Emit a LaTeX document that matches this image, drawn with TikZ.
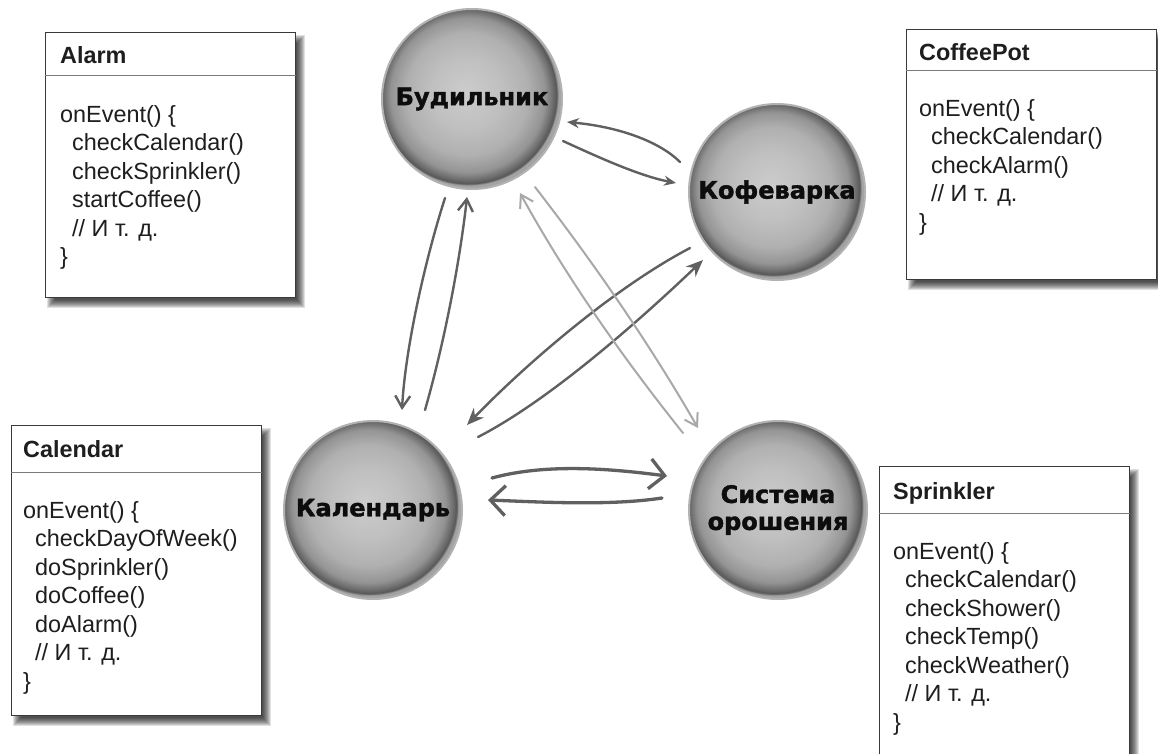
\documentclass[tikz,border=0pt]{standalone}
\usepackage{fontspec}
\setmainfont{Liberation Sans}
\newfontfamily\bubfont{DejaVu Sans}[BoldFeatures={FakeBold=1.6}]
\usetikzlibrary{arrows.meta,calc}
\definecolor{arrdark}{HTML}{606060}
\definecolor{arrlight}{HTML}{A8A8A8}
\definecolor{boxline}{HTML}{3A3A3A}
\definecolor{divline}{HTML}{7A7A7A}
\definecolor{txt}{HTML}{1E1E1E}
\pgfdeclareradialshading{bubble}{\pgfpoint{-2bp}{2bp}}{color(0bp)=(black!20); color(10bp)=(black!25); color(17bp)=(black!31); color(21.5bp)=(black!42); color(23.6bp)=(black!58); color(24.5bp)=(black!66); color(25bp)=(black!36); color(50bp)=(black!36)}
\tikzset{
  bubble/.style={circle, shading=bubble, draw=black!30, line width=2pt,
    minimum size=#1, inner sep=0pt, align=center, text=black!95,
    font=\bubfont\bfseries\fontsize{24}{27}\selectfont},
  classbox/.style={rectangle, draw=boxline, line width=1.1pt, fill=white,
    anchor=north west, minimum width=250pt, inner sep=0pt},
  boxtitle/.style={anchor=base west, inner sep=0pt, text=txt,
    font=\bfseries\fontsize{23.4}{27}\selectfont},
  codeline/.style={anchor=base west, inner sep=0pt, text=txt,
    font=\fontsize{23.4}{27}\selectfont},
  divider/.style={draw=divline, line width=1pt},
  darrow/.style={draw=arrdark, line width=2.4pt, line cap=round},
  larrow/.style={draw=arrlight, line width=2pt, line cap=round},
  warrow/.style={draw=arrdark, line width=3.3pt, line cap=round},
  headstealth/.style={-{Stealth[length=17pt,width=14pt]}},
  headsmall/.style={-{Stealth[length=12pt,width=10pt]}},
  headbarb/.style={-{Straight Barb[length=12pt,width=15pt]}},
  headwide/.style={-{Straight Barb[length=15pt,width=30pt]}}
}
\newcommand\softshadow[4]{%
  \foreach \k in {0,...,8}{%
    \fill[black,opacity=0.12] (#1+10-\k,#2+11-\k) rectangle (#1+#3+2+\k,#2+#4+3+\k);
  }}
\newcommand\codelines[3]{%
  \foreach \t [count=\i] in {#3}{%
    \node[codeline] (#1\i) at ($(#2)+(0,{(\i-1)*28.5})$) {\t};
  }}
\begin{document}
\begin{tikzpicture}[x=1pt,y=-1pt]
\useasboundingbox (0,0) rectangle (1158,753);
\clip (0,0) rectangle (1158,753);

% ---------- class boxes ----------
% Alarm
\softshadow{45}{32}{250}{265}
\node[classbox, minimum height=265pt] (alarmbox) at (45,32) {};
\node[boxtitle] (alarmtitle) at ($(alarmbox.north west)+(15,31)$) {Alarm};
\draw[divider] ($(alarmbox.north west)+(0,43)$) -- ($(alarmbox.north east)+(0,43)$);
\coordinate (alarmtext) at ($(alarmbox.north west)+(15,90)$);
\codelines{alarmL}{alarmtext}{onEvent() \{, \hspace*{12pt}checkCalendar(), \hspace*{12pt}checkSprinkler(), \hspace*{12pt}startCoffee(), \hspace*{12pt}// И т. д., \}}

% CoffeePot
\softshadow{906}{29}{250}{250}
\node[classbox, minimum height=250pt] (coffeebox) at (906,29) {};
\node[boxtitle] (coffeetitle) at ($(coffeebox.north west)+(13,31)$) {CoffeePot};
\draw[divider] ($(coffeebox.north west)+(0,41)$) -- ($(coffeebox.north east)+(0,41)$);
\coordinate (coffeetext) at ($(coffeebox.north west)+(13,87)$);
\codelines{coffeeL}{coffeetext}{onEvent() \{, \hspace*{12pt}checkCalendar(), \hspace*{12pt}checkAlarm(), \hspace*{12pt}// И т. д., \}}

% Calendar
\softshadow{11}{425}{250}{290}
\node[classbox, minimum height=290pt] (calbox) at (11,425) {};
\node[boxtitle] (caltitle) at ($(calbox.north west)+(12,32)$) {Calendar};
\draw[divider] ($(calbox.north west)+(0,47)$) -- ($(calbox.north east)+(0,47)$);
\coordinate (caltext) at ($(calbox.north west)+(12,93)$);
\codelines{calL}{caltext}{onEvent() \{, \hspace*{12pt}checkDayOfWeek(), \hspace*{12pt}doSprinkler(), \hspace*{12pt}doCoffee(), \hspace*{12pt}doAlarm(), \hspace*{12pt}// И т. д., \}}

% Sprinkler
\softshadow{879}{466}{250}{320}
\node[classbox, minimum height=320pt] (sprbox) at (879,466) {};
\node[boxtitle] (sprtitle) at ($(sprbox.north west)+(14,33)$) {Sprinkler};
\draw[divider] ($(sprbox.north west)+(0,47)$) -- ($(sprbox.north east)+(0,47)$);
\coordinate (sprtext) at ($(sprbox.north west)+(14,93)$);
\codelines{sprL}{sprtext}{onEvent() \{, \hspace*{12pt}checkCalendar(), \hspace*{12pt}checkShower(), \hspace*{12pt}checkTemp(), \hspace*{12pt}checkWeather(), \hspace*{12pt}// И т. д., \}}

% ---------- bubbles ----------
\node[bubble=180pt] (bud) at (472,99) {Будильник};
\node[bubble=176pt] (cof) at (777,192) {Кофеварка};
\node[bubble=178pt] (cal) at (373,510) {Календарь};
\node[bubble=178pt] (spr) at (778,510) {Система\\орошения};

% ---------- connectors ----------
% Alarm <-> CoffeePot
\draw[darrow, headsmall] ($(cof)+(-97,-30)$) .. controls (660,142) and (620,127) .. ($(bud)+(95,23)$);
\draw[darrow, headsmall] ($(bud)+(91,42)$) .. controls (600,158) and (640,176) .. ($(cof)+(-101,-9)$);
% Alarm <-> Calendar
\draw[darrow, headbarb] ($(bud)+(-27,99)$) .. controls (425,260) and (405,350) .. ($(cal)+(29,-100)$);
\draw[darrow, headbarb] ($(cal)+(52,-100)$) .. controls (445,340) and (460,260) .. ($(bud)+(-5,98)$);
% CoffeePot <-> Calendar
\draw[darrow, headstealth] ($(cof)+(-87,56)$) .. controls (610,290) and (520,370) .. ($(cal)+(94,-85)$);
\draw[darrow, headstealth] ($(cal)+(105,-73)$) .. controls (550,400) and (640,320) .. ($(cof)+(-74,68)$);
% Alarm <-> Sprinkler (light)
\draw[larrow, headbarb] ($(spr)+(-95,-77)$) .. controls (619,353) and (564,273) .. ($(bud)+(48,94)$);
\draw[larrow, headbarb] ($(bud)+(63,88)$) .. controls (597,267) and (652,348) .. ($(spr)+(-80,-82)$);
% Calendar <-> Sprinkler
\draw[warrow, headwide] ($(cal)+(119,-32)$) .. controls (550,462) and (620,470) .. ($(spr)+(-111,-34)$);
\draw[warrow, headwide] ($(spr)+(-116,-12)$) .. controls (610,506) and (540,502) .. ($(cal)+(115,-10)$);
\end{tikzpicture}
\end{document}
